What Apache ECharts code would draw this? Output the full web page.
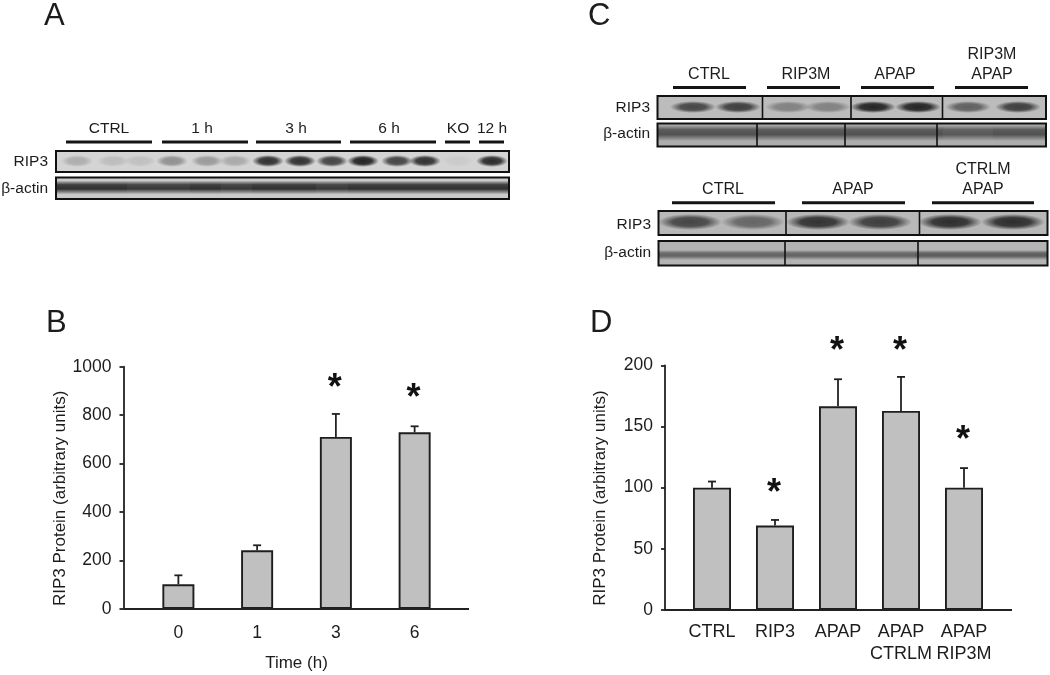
<!DOCTYPE html>
<html><head><meta charset="utf-8">
<style>html,body{margin:0;padding:0;background:#fff}#c{width:1050px;height:675px}</style>
<script src="https://cdn.jsdelivr.net/npm/echarts@6/dist/echarts.min.js"></script>
</head><body><div id="c"></div>
<script>
// ---- chart data ----
const timeCategories = ['0', '1', '3', '6'];
const timeValues = [102, 242, 710, 729];
const timeErrorTops = [139, 263, 805, 754];
const timeStars = [[2, 934], [3, 892]];
const timeTicks = [0, 1000, 200];

const groupCategories = ['CTRL', 'RIP3', 'APAP', 'APAP\nCTRLM', 'APAP\nRIP3M'];
const groupValues = [100, 69, 166.5, 162.7, 100];
const groupErrorTops = [105, 73.6, 188.6, 190.5, 116];
const groupStars = [[1, 100], [2, 216], [3, 216], [4, 143]];
const groupTicks = [0, 200, 50];

// blot band darkness, one per lane
const blotA_rip3 = [0.2, 0.12, 0.1, 0.35, 0.3, 0.22, 0.85, 0.85, 0.75, 0.92, 0.75, 0.85, 0.05, 0.88];
const blotA_actin = [0.85, 0.85, 0.8, 0.8, 0.85, 0.8, 0.85, 0.85, 0.8, 0.85, 0.85, 0.85, 0.85, 0.85];
const blotC1_rip3 = [0.7, 0.75, 0.35, 0.35, 0.9, 0.9, 0.55, 0.75];
const blotC1_actin = [0.6, 0.6, 0.6, 0.6, 0.6, 0.6, 0.55, 0.6];
const blotC2_rip3 = [0.7, 0.5, 0.82, 0.75, 0.85, 0.85];
const blotC2_actin = [0.5, 0.5, 0.5, 0.5, 0.55, 0.55];

const FONT = '"Liberation Sans", Arial, sans-serif';
const INK = '#1c1c1c';
const g = [];

function label(text, x, y, size, align) {
  g.push({type: 'text', x, y, z: 20, style: {text, fontFamily: FONT, fontSize: size, fill: INK,
    align: align || 'center', verticalAlign: 'middle', lineHeight: 20}});
}
function bar(x1, x2, y) {
  g.push({type: 'rect', z: 20, shape: {x: x1, y: y - 1.5, width: x2 - x1, height: 3}, style: {fill: '#141414'}});
}
function band(cx, cy, w, h, a) {
  g.push({type: 'circle', z: 11, x: cx, y: cy, scaleX: w / 2, scaleY: h / 2, shape: {r: 1}, style: {
    fill: {type: 'radial', x: 0.5, y: 0.5, r: 0.5, colorStops: [
      {offset: 0, color: 'rgba(20,20,20,' + a + ')'},
      {offset: 0.55, color: 'rgba(20,20,20,' + (a * 0.9) + ')'},
      {offset: 0.85, color: 'rgba(20,20,20,' + (a * 0.3) + ')'},
      {offset: 1, color: 'rgba(20,20,20,0)'}]}}});
}
function rowSegment(x1, x2, cy, h, a) {
  const c = v => 'rgba(20,20,20,' + v + ')';
  g.push({type: 'rect', z: 11, shape: {x: x1, y: cy - h / 2, width: x2 - x1, height: h}, style: {
    fill: {type: 'linear', x: 0, y: 0, x2: 0, y2: 1, colorStops: [
      {offset: 0, color: c(0)}, {offset: 0.3, color: c(a * 0.9)}, {offset: 0.6, color: c(a)}, {offset: 1, color: c(0)}]}}});
}
function frame(x1, y1, x2, y2, dividers) {
  (dividers || []).forEach(d => g.push({type: 'line', z: 12, shape: {x1: d, y1, x2: d, y2}, style: {stroke: '#111', lineWidth: 1.6}}));
  g.push({type: 'rect', z: 13, shape: {x: x1, y: y1, width: x2 - x1, height: y2 - y1}, style: {fill: 'none', stroke: '#111', lineWidth: 2}});
}
function bandPanel(x1, y1, x2, y2, bg, lanes, levels, w, h, dividers, bandY) {
  g.push({type: 'rect', z: 10, shape: {x: x1, y: y1, width: x2 - x1, height: y2 - y1}, style: {fill: bg}});
  lanes.forEach((cx, i) => band(cx, bandY, w, h, levels[i]));
  frame(x1, y1, x2, y2, dividers);
}
function rowPanel(x1, y1, x2, y2, bg, lanes, levels, h, dividers, bandY) {
  g.push({type: 'rect', z: 10, shape: {x: x1, y: y1, width: x2 - x1, height: y2 - y1}, style: {fill: bg}});
  lanes.forEach((cx, i) => {
    const l = i === 0 ? x1 : Math.round((lanes[i - 1] + cx) / 2);
    const r = i === lanes.length - 1 ? x2 : Math.round((cx + lanes[i + 1]) / 2);
    rowSegment(l, r, bandY, h, levels[i]);
  });
  frame(x1, y1, x2, y2, dividers);
}

// panel letters
[['A', 44, 16], ['B', 46, 323], ['C', 588, 16], ['D', 590, 323]].forEach(l => label(l[0], l[1], l[2], 31, 'left'));

// Panel A
[['CTRL', 109, 66, 152], ['1 h', 202, 162, 248], ['3 h', 296, 256, 341], ['6 h', 389, 350, 436], ['KO', 458, 445, 470], ['12 h', 492, 479, 504]]
  .forEach(a => { label(a[0], a[1], 129, 15.5); bar(a[2], a[3], 142); });
label('RIP3', 48, 162, 15.5, 'right');
label('β-actin', 48, 189, 15.5, 'right');
const lanesA = [77, 113, 140, 172, 207, 235, 268, 300, 332, 363, 397, 425, 458, 492];
bandPanel(56, 151, 509, 172, '#d4d4d4', lanesA, blotA_rip3, 32, 12, null, 161);
rowPanel(56, 177.5, 509, 199, '#cacaca', lanesA, blotA_actin, 14, null, 187.5);

// Panel C upper
[[673, 746], [767, 840], [861, 934], [955, 1028]].forEach(a => bar(a[0], a[1], 87.5));
label('CTRL', 709, 74.5, 16); label('RIP3M', 806, 74.5, 16); label('APAP', 895, 74.5, 16);
label('RIP3M', 992, 54.5, 16); label('APAP', 992, 74.5, 16);
label('RIP3', 650, 108, 15.5, 'right');
label('β-actin', 650, 134, 15.5, 'right');
const lanesC1 = [693, 738, 788, 828, 873, 918, 968, 1018];
bandPanel(657.5, 96, 1046, 119, '#bcbcbc', lanesC1, blotC1_rip3, 46, 12, [762.5, 851, 942.5], 107);
rowPanel(657.5, 123.5, 1046, 146.5, '#adadad', lanesC1, blotC1_actin, 16, [757, 845, 937], 133);

// Panel C lower
[[672, 775], [802, 905], [932, 1034]].forEach(a => bar(a[0], a[1], 202.7));
label('CTRL', 723, 190, 16); label('APAP', 853, 190, 16);
label('CTRLM', 983, 170, 16); label('APAP', 983, 190, 16);
label('RIP3', 651, 225, 15.5, 'right');
label('β-actin', 651, 253, 15.5, 'right');
const lanesC2 = [690, 753, 818, 880, 950, 1013];
bandPanel(658.5, 211, 1047.5, 235, '#b8b8b8', lanesC2, blotC2_rip3, 64, 16, [786, 919.5], 222);
rowPanel(658.5, 241, 1047.5, 265.5, '#b4b4b4', lanesC2, blotC2_actin, 10, [785, 918], 255);

// extended x-axis lines
[[123.5, 469, 609], [664.5, 1012, 610]].forEach(s => g.push({type: 'line', z: 5,
  shape: {x1: s[0], y1: s[2], x2: s[1], y2: s[2]}, style: {stroke: '#222', lineWidth: 1.8}}));

function axisText(size) { return {color: INK, fontFamily: FONT, fontSize: size}; }
function xAxis(grid, cats, margin, name, size) {
  return {type: 'category', gridIndex: grid, data: cats, name, nameLocation: 'middle', nameGap: 46,
    nameTextStyle: {color: INK, fontFamily: FONT, fontSize: 17},
    axisLine: {show: true, lineStyle: {color: '#222', width: 1.8}}, axisTick: {show: false},
    axisLabel: Object.assign(axisText(size), {margin, lineHeight: 22, interval: 0})};
}
function yAxis(grid, t, gap) {
  return {type: 'value', gridIndex: grid, min: t[0], max: t[1], interval: t[2], offset: 15.5,
    name: 'RIP3 Protein (arbitrary units)', nameLocation: 'middle', nameGap: gap, nameRotate: 90,
    nameTextStyle: {color: INK, fontFamily: FONT, fontSize: 17, padding: [0, 21, 0, 0]},
    splitLine: {show: false},
    axisLine: {show: true, onZero: false, lineStyle: {color: '#222', width: 1.8}},
    axisTick: {show: true, length: 4, lineStyle: {color: '#222', width: 1.8}},
    axisLabel: Object.assign(axisText(17.5), {margin: 12, formatter: v => String(v)})};
}
function barSeries(i, values, width) {
  return {type: 'bar', xAxisIndex: i, yAxisIndex: i, data: values, barWidth: width, z: 3,
    itemStyle: {color: '#c0c0c0', borderColor: '#1e1e1e', borderWidth: 1.9}, silent: true};
}
function errorSeries(i, values, tops) {
  return {type: 'custom', xAxisIndex: i, yAxisIndex: i, z: 2, silent: true,
    data: values.map((v, k) => [k, v, tops[k]]),
    renderItem(params, api) {
      const a = api.coord([api.value(0), api.value(1)]);
      const b = api.coord([api.value(0), api.value(2)]);
      const s = {stroke: '#222', lineWidth: 1.8};
      return {type: 'group', children: [
        {type: 'line', shape: {x1: a[0], y1: a[1], x2: a[0], y2: b[1]}, style: s},
        {type: 'line', shape: {x1: a[0] - 4, y1: b[1], x2: a[0] + 4, y2: b[1]}, style: s}]};
    }};
}
function starSeries(i, stars) {
  return {type: 'custom', xAxisIndex: i, yAxisIndex: i, z: 6, silent: true, clip: false, data: stars,
    renderItem(params, api) {
      const p = api.coord([api.value(0), api.value(1)]);
      return {type: 'text', x: p[0] - 1, y: p[1] + 6.5, style: {text: '*', fontFamily: FONT, fontSize: 36,
        fontWeight: 'bold', fill: '#111', align: 'center', verticalAlign: 'middle'}};
    }};
}

const chart = echarts.init(document.getElementById('c'), null, {renderer: 'canvas'});
chart.setOption({
  backgroundColor: '#fff', animation: false,
  grid: [
    {left: 139, width: 315, top: 366.7, height: 242.3},
    {left: 680.5, width: 315, top: 365.3, height: 244.7}
  ],
  xAxis: [xAxis(0, timeCategories, 13, 'Time (h)', 17.5), xAxis(1, groupCategories, 11, '', 18)],
  yAxis: [yAxis(0, timeTicks, 55), yAxis(1, groupTicks, 56)],
  series: [
    errorSeries(0, timeValues, timeErrorTops), barSeries(0, timeValues, 32), starSeries(0, timeStars),
    errorSeries(1, groupValues, groupErrorTops), barSeries(1, groupValues, 38), starSeries(1, groupStars)
  ],
  graphic: {elements: g}
});
</script></body></html>
